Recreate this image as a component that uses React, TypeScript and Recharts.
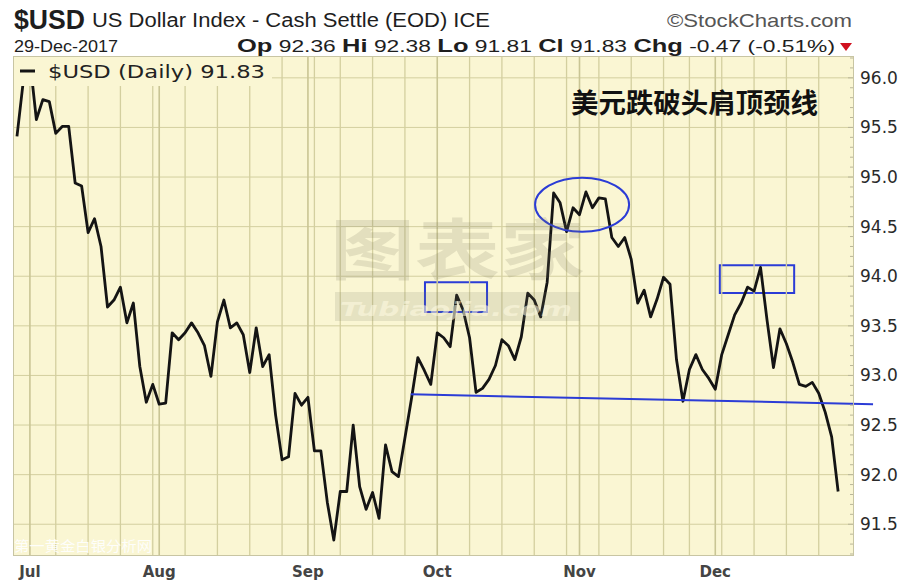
import React from 'react';
import {
  LineChart,
  Line,
  XAxis,
  YAxis,
  CartesianGrid,
  ReferenceLine,
  ReferenceArea,
  ReferenceDot,
} from 'recharts';

// daily closes of $USD, 29-Jun-2017 .. 29-Dec-2017
const closes = [
  95.41, 95.98, 96.18, 95.58, 95.78, 95.76, 95.44, 95.51, 95.51, 94.94,
  94.91, 94.44, 94.58, 94.3, 93.69, 93.76, 93.89, 93.53, 93.73, 93.09,
  92.73, 92.91, 92.71, 92.72, 93.43, 93.36, 93.43, 93.53, 93.43, 93.3,
  92.99, 93.54, 93.76, 93.48, 93.53, 93.41, 93.03, 93.48, 93.09, 93.21,
  92.6, 92.15, 92.18, 92.82, 92.7, 92.78, 92.24, 92.24, 91.72, 91.34,
  91.83, 91.83, 92.5, 91.88, 91.65, 91.82, 91.56, 92.3, 92.03, 91.98,
  92.37, 92.76, 93.18, 93.05, 92.91, 93.43, 93.38, 93.29, 93.81, 93.66,
  93.38, 92.83, 92.87, 92.96, 93.1, 93.36, 93.3, 93.16, 93.39, 93.83,
  93.76, 93.59, 93.94, 94.84, 94.74, 94.45, 94.69, 94.62, 94.85, 94.69,
  94.79, 94.78, 94.39, 94.3, 94.39, 94.17, 93.73, 93.86, 93.59, 93.77,
  93.99, 93.92, 93.16, 92.74, 93.06, 93.21, 93.06, 92.97, 92.86, 93.21,
  93.41, 93.61, 93.73, 93.89, 93.85, 94.09, 93.56, 93.08, 93.47, 93.32,
  93.13, 92.91, 92.89, 92.93, 92.82, 92.63, 92.38, 91.83,
];

const firstDay = '2017-06-29';
const lastDay = '2017-12-29';
const holidays = ['2017-07-04', '2017-09-04', '2017-11-23', '2017-12-25'];
const monthNames = ['Jan', 'Feb', 'Mar', 'Apr', 'May', 'Jun', 'Jul', 'Aug', 'Sep', 'Oct', 'Nov', 'Dec'];
const priceTicks = [91.5, 92.0, 92.5, 93.0, 93.5, 94.0, 94.5, 95.0, 95.5, 96.0];

// annotations (in day index / price units)
const shoulderBoxes = [
  { x1: 63.1, x2: 72.7, y1: 93.64, y2: 93.94 },
  { x1: 108.7, x2: 120.2, y1: 93.83, y2: 94.11 },
];
const headMark = { x: 87.4, y: 94.72 };
const neckline = [
  { x: 60.9, y: 92.81 },
  { x: 132.4, y: 92.71 },
];

const PLOT_BG = '#faf6d3';
const GRID = '#d3cf9f';
const MONTH_GRID = '#c9c594';
const BLUE = '#2b3cd6';

function tradingDays(start: string, end: string, skip: string[]) {
  const out: string[] = [];
  const d = new Date(start + 'T00:00:00Z');
  const e = new Date(end + 'T00:00:00Z');
  while (d <= e) {
    const dow = d.getUTCDay();
    const iso = d.toISOString().slice(0, 10);
    if (dow !== 0 && dow !== 6 && !skip.includes(iso)) out.push(iso);
    d.setUTCDate(d.getUTCDate() + 1);
  }
  return out;
}

const dates = tradingDays(firstDay, lastDay, holidays);
const data = dates.map((date, i) => ({ i, date, close: closes[i] }));

const weekday = (iso: string) => new Date(iso + 'T00:00:00Z').getUTCDay();

// first trading day of each month / each week
const monthStarts: number[] = [];
const weekStarts: number[] = [];
for (let i = 1; i < dates.length; i++) {
  if (dates[i].slice(5, 7) !== dates[i - 1].slice(5, 7)) monthStarts.push(i);
  else if (weekday(dates[i]) < weekday(dates[i - 1])) weekStarts.push(i);
}

// minor ticks every 0.1 on the price scale
const minorTicks: number[] = [];
for (let k = 912; k <= 962; k++) minorTicks.push(k / 10);

const PriceTick = (props: any) => {
  const { x, y, payload } = props;
  const v = payload.value;
  const major = priceTicks.some((t) => Math.abs(t - v) < 1e-6);
  return (
    <g>
      <line x1={x - (major ? 5 : 3)} x2={x} y1={y} y2={y} stroke="#b9b69a" />
      {major && (
        <text x={x + 7} y={y + 6} fontSize={17} fontFamily="DejaVu Sans" fill="#2a2a2a">
          {v.toFixed(1)}
        </text>
      )}
    </g>
  );
};

const MonthTick = (props: any) => {
  const { x, y, payload } = props;
  const m = Number(dates[payload.value].slice(5, 7)) - 1;
  return (
    <text
      x={x}
      y={y + 22}
      textAnchor="middle"
      fontSize={15}
      fontWeight={700}
      fontFamily="DejaVu Sans"
      fill="#444"
    >
      {monthNames[m]}
    </text>
  );
};

export default function App() {
  return (
    <div style={{ position: 'absolute', left: 0, top: 0, width: 914, height: 586, background: '#fff' }}>
      <LineChart width={914} height={586} data={data} margin={{ top: 57, right: 0, bottom: 0, left: 14 }}>
        <CartesianGrid
          fill={PLOT_BG}
          fillOpacity={1}
          stroke={GRID}
          vertical={false}
          horizontalValues={priceTicks}
        />
        {weekStarts.map((i) => (
          <ReferenceLine key={'w' + i} x={i} stroke={GRID} strokeWidth={1.3} />
        ))}
        {monthStarts.map((i) => (
          <ReferenceLine key={'m' + i} x={i} stroke={MONTH_GRID} strokeWidth={1.6} />
        ))}
        <XAxis
          type="number"
          dataKey="i"
          domain={[-0.46, 129.3]}
          allowDataOverflow
          ticks={monthStarts}
          interval={0}
          axisLine={false}
          tickLine={false}
          tickSize={0}
          tickMargin={0}
          height={31}
          tick={<MonthTick />}
        />
        <YAxis
          orientation="right"
          width={61}
          domain={[91.19, 96.21]}
          allowDataOverflow
          ticks={minorTicks}
          interval={0}
          axisLine={false}
          tickLine={false}
          tickSize={0}
          tickMargin={0}
          tick={<PriceTick />}
        />
        <Line
          type="linear"
          dataKey="close"
          stroke="#141414"
          strokeWidth={2.8}
          strokeLinejoin="round"
          dot={false}
          isAnimationActive={false}
        />
        {shoulderBoxes.map((b, k) => (
          <ReferenceArea
            key={k}
            x1={b.x1}
            x2={b.x2}
            y1={b.y1}
            y2={b.y2}
            fill="none"
            fillOpacity={0}
            stroke={BLUE}
            strokeWidth={2}
            strokeOpacity={1}
            ifOverflow="visible"
          />
        ))}
        <ReferenceDot
          x={headMark.x}
          y={headMark.y}
          ifOverflow="visible"
          shape={(p: any) => (
            <ellipse cx={p.cx} cy={p.cy} rx={47} ry={27} fill="none" stroke={BLUE} strokeWidth={2} />
          )}
        />
        <ReferenceLine segment={neckline} stroke={BLUE} strokeWidth={2} ifOverflow="visible" />
      </LineChart>

      <svg
        width={914}
        height={586}
        style={{ position: 'absolute', left: 0, top: 0, pointerEvents: 'none' }}
      >
        {/* header */}
        <g fontFamily="Liberation Sans, Arial, sans-serif" fill="#1e1e1e">
          <text x={14} y={29} fontSize={27} fontWeight={700} textLength={71} lengthAdjust="spacingAndGlyphs">
            $USD
          </text>
          <text x={92} y={27} fontSize={20} textLength={398} lengthAdjust="spacingAndGlyphs">
            US Dollar Index - Cash Settle (EOD) ICE
          </text>
          <text x={667} y={27} fontSize={19} fill="#555" textLength={185} lengthAdjust="spacingAndGlyphs">
            ©StockCharts.com
          </text>
          <text x={14} y={52} fontSize={17} textLength={104} lengthAdjust="spacingAndGlyphs">
            29-Dec-2017
          </text>
          <text x={237} y={52} fontSize={17} textLength={598} lengthAdjust="spacingAndGlyphs">
            <tspan fontWeight={700} fontSize={19}>Op</tspan> 92.36{' '}
            <tspan fontWeight={700} fontSize={19}>Hi</tspan> 92.38{' '}
            <tspan fontWeight={700} fontSize={19}>Lo</tspan> 91.81{' '}
            <tspan fontWeight={700} fontSize={19}>Cl</tspan> 91.83{' '}
            <tspan fontWeight={700} fontSize={19}>Chg</tspan> -0.47 (-0.51%)
          </text>
          <polygon points="840,43 852,43 846,51" fill="#d0101f" />
        </g>

        {/* plot frame */}
        <rect x={13.5} y={56.5} width={840} height={499} fill="none" stroke="#c8c5a3" />

        {/* legend */}
        <rect x={14} y={57} width={258} height={29} fill={PLOT_BG} />
        <rect x={20} y={69.5} width={15} height={3} fill="#141414" />
        <text
          x={48}
          y={78}
          fontSize={18}
          fontFamily="DejaVu Sans"
          fill="#222"
          textLength={217}
          lengthAdjust="spacingAndGlyphs"
        >
          $USD (Daily) 91.83
        </text>

        {/* watermarks */}
        <text
          x={330}
          y={274}
          fontSize={66}
          fontWeight={700}
          fontFamily="Noto Sans CJK SC"
          fill="#7d7a62"
          opacity={0.18}
          textLength={255}
          lengthAdjust="spacingAndGlyphs"
        >
          图表家
        </text>
        <rect x={335} y={292} width={245} height={29} fill="#7d7a62" opacity={0.16} />
        <text
          x={340}
          y={316}
          fontSize={20}
          fontWeight={700}
          fontStyle="italic"
          fontFamily="DejaVu Sans"
          fill="#fffbe2"
          opacity={0.55}
          textLength={232}
          lengthAdjust="spacingAndGlyphs"
        >
          Tubiaojia.com
        </text>
        <text
          x={14}
          y={551}
          fontSize={14}
          fontFamily="Noto Sans CJK SC"
          fill="#ffffff"
          opacity={0.9}
          textLength={138}
          lengthAdjust="spacingAndGlyphs"
        >
          第一黄金白银分析网
        </text>

        {/* annotation */}
        <text
          x={571}
          y={113}
          fontSize={27}
          fontWeight={700}
          fontFamily="Noto Sans CJK SC"
          fill="#111"
          textLength={247}
          lengthAdjust="spacingAndGlyphs"
        >
          美元跌破头肩顶颈线
        </text>
      </svg>
    </div>
  );
}
